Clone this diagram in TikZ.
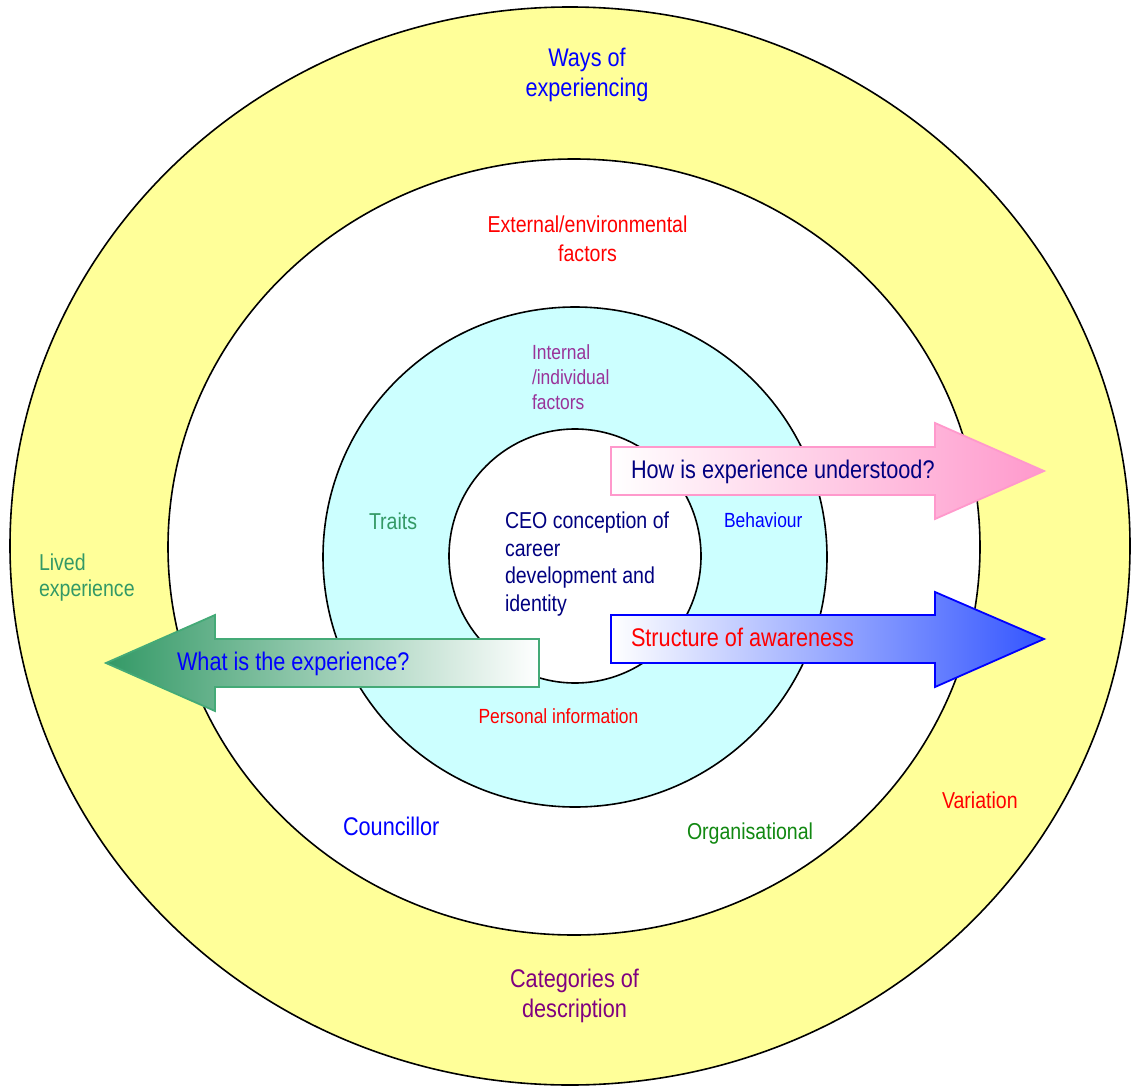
\documentclass[tikz,border=0pt]{standalone}
\usepackage{fontspec}
\setmainfont[FakeStretch=0.85]{Liberation Sans}
\definecolor{ringyellow}{HTML}{FFFF99}
\definecolor{ringcyan}{HTML}{CCFFFF}
\definecolor{txtblue}{HTML}{0000FF}
\definecolor{txtred}{HTML}{FF0000}
\definecolor{txtpurple}{HTML}{993399}
\definecolor{txtplum}{HTML}{800080}
\definecolor{txtsea}{HTML}{339966}
\definecolor{txtnavy}{HTML}{000080}
\definecolor{txtgreen}{HTML}{118811}
\definecolor{arrpink}{HTML}{FF99CC}
\definecolor{arrblue}{HTML}{3355FF}
\definecolor{arrgreen}{HTML}{339966}
\definecolor{arrgreenline}{HTML}{44AA77}
\begin{document}
\begin{tikzpicture}[x=1pt,y=-1pt,
  lab/.style={inner sep=0pt, outer sep=0pt},
  ring/.style={draw=black, line width=1.6pt},
  bigtxt/.style={font=\fontsize{25.5}{30}\selectfont},
  midtxt/.style={font=\fontsize{23}{28}\selectfont},
  smalltxt/.style={font=\fontsize{20.5}{25}\selectfont},
  arrline/.style={line width=1.8pt, line join=miter},
]
\useasboundingbox (0,0) rectangle (1131,1086);
\fill[white] (0,0) rectangle (1131,1086);
% rings
\draw[ring, fill=ringyellow] (570,546) ellipse [x radius=560pt, y radius=539pt];
\draw[ring, fill=white] (574,547) ellipse [x radius=406pt, y radius=388pt];
\draw[ring, fill=ringcyan] (575,557) ellipse [x radius=252pt, y radius=250pt];
\draw[ring, fill=white] (575,556) ellipse [x radius=126pt, y radius=127pt];
% arrows
\path[arrline, draw=arrpink, left color=white, right color=arrpink]
  (611,447) -- (935,447) -- (935,423) -- (1044,471) -- (935,519) -- (935,495) -- (611,495) -- cycle;
\path[arrline, draw=txtblue, left color=white, right color=arrblue]
  (611,615) -- (935,615) -- (935,592) -- (1044,639) -- (935,687) -- (935,663) -- (611,663) -- cycle;
\path[arrline, draw=arrgreenline, left color=arrgreen, right color=white]
  (106,663) -- (215,615) -- (215,639) -- (539,639) -- (539,687) -- (215,687) -- (215,711) -- cycle;
% texts (multi-line nodes: base anchor = last line's baseline)
\node[lab, bigtxt, txtblue, align=center, anchor=base] (ways) at (587,97) {Ways of\\experiencing};
\node[lab, txtred, align=center, anchor=base, font=\fontsize{23}{29}\selectfont] (ext) at (587.5,261) {External/environmental\\factors};
\node[lab, smalltxt, txtpurple, align=left, anchor=base west] (int) at (532,409) {Internal\\/individual\\factors};
\node[lab, midtxt, txtsea, anchor=base west] (traits) at (369,529) {Traits};
\node[lab, txtnavy, align=left, anchor=base west, font=\fontsize{23}{27.5}\selectfont] (ceo) at (505,611) {CEO conception of\\career\\development and\\identity};
\node[lab, smalltxt, txtblue, anchor=base west] (beh) at (724,527) {Behaviour};
\node[lab, txtsea, align=left, anchor=base west, font=\fontsize{23}{26}\selectfont] (lived) at (39,596) {Lived\\experience};
\node[lab, smalltxt, txtred, anchor=base] (pers) at (558.5,723) {Personal information};
\node[lab, bigtxt, txtblue, anchor=base west] (coun) at (343,835) {Councillor};
\node[lab, midtxt, txtgreen, anchor=base west] (org) at (687,839) {Organisational};
\node[lab, midtxt, txtred, anchor=base west] (var) at (942,808) {Variation};
\node[lab, bigtxt, txtplum, align=center, anchor=base] (cat) at (574.5,1017) {Categories of\\description};
\node[lab, bigtxt, txtnavy, anchor=base west] (how) at (631,478) {How is experience understood?};
\node[lab, bigtxt, txtred, anchor=base west] (struct) at (631,646) {Structure of awareness};
\node[lab, bigtxt, txtblue, anchor=base west] (what) at (177,670) {What is the experience?};
\end{tikzpicture}
\end{document}
